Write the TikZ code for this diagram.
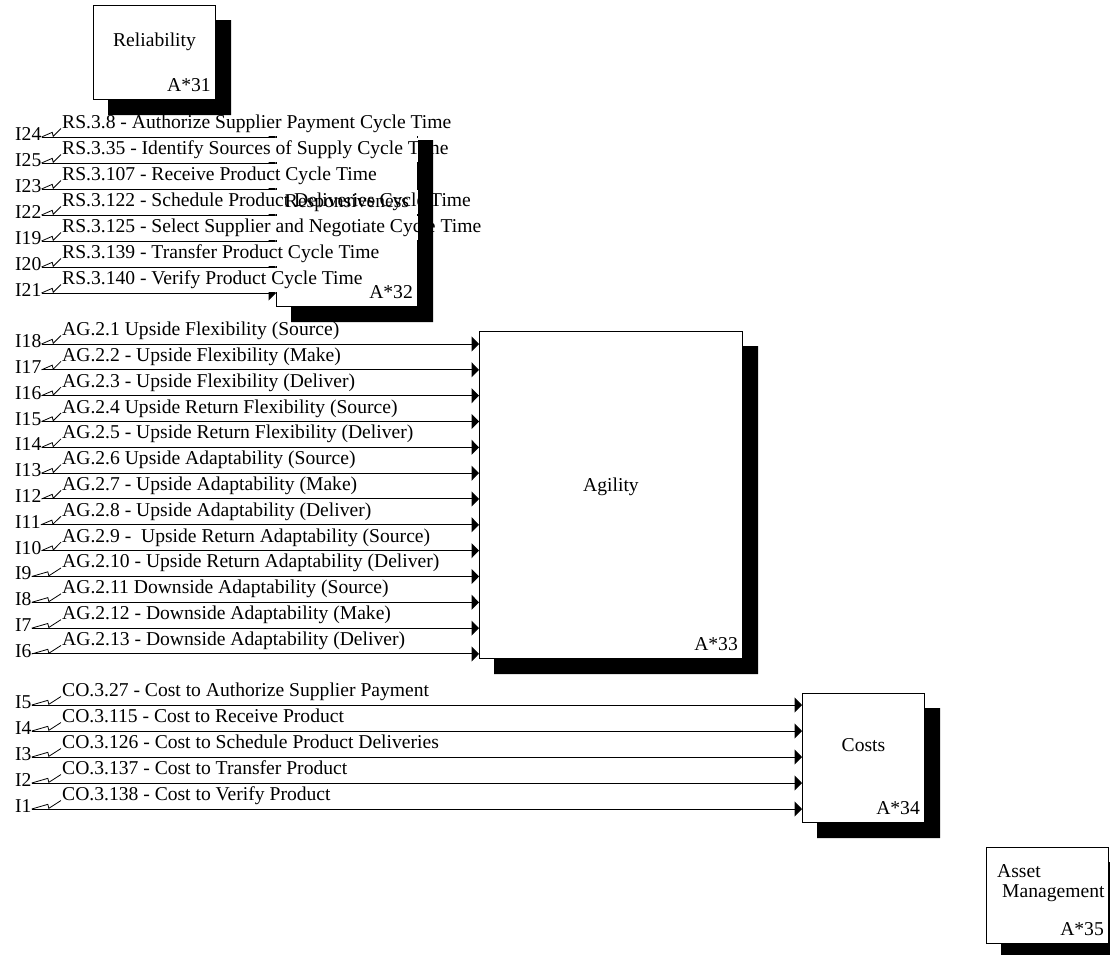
\documentclass[tikz,border=0pt]{standalone}
\usepackage{fontspec}
\setmainfont{Liberation Serif}
\usetikzlibrary{arrows.meta,calc,positioning}
\tikzset{
    mybox/.style={draw=black,fill=white,line width=1pt,inner sep=0pt,anchor=north west},
    myshadow/.style={fill=black},
    myflow/.style={line width=1pt,draw=black,-{Triangle[length=7.5pt,width=15pt]}},
    mysquig/.style={line width=0.8pt,draw=black},
    mytext/.style={inner sep=0pt,anchor=base west},
    myflowtext/.style={fill=white,inner xsep=1pt,inner ysep=0pt,text height=16.4pt,text depth=7.4pt,anchor=base west},
    every node/.style={font=\fontsize{19.6}{21}\selectfont}
}

\begin{document}
\begin{tikzpicture}[x=1pt,y=-1pt]
  \useasboundingbox (0,0) rectangle (1110,954);
  % activity boxes
  \node[mybox,minimum width=122pt,minimum height=94pt] (rel) at (93,5) {};
  \node[mybox,minimum width=141pt,minimum height=181pt] (resp) at (276,125) {};
  \node[mybox,minimum width=263pt,minimum height=327pt] (agil) at (479,331) {};
  \node[mybox,minimum width=122pt,minimum height=129pt] (cost) at (802,693) {};
  \node[mybox,minimum width=122pt,minimum height=96pt] (asset) at (986,847) {};
  % responsiveness inputs
  \foreach \n/\txt [count=\k] in {24/{RS.3.8 - Authorize Supplier Payment Cycle Time},
      25/{RS.3.35 - Identify Sources of Supply Cycle Time},
      23/{RS.3.107 - Receive Product Cycle Time},
      22/{RS.3.122 - Schedule Product Deliveries Cycle Time},
      19/{RS.3.125 - Select Supplier and Negotiate Cycle Time},
      20/{RS.3.139 - Transfer Product Cycle Time},
      21/{RS.3.140 - Verify Product Cycle Time}}{
    \pgfmathsetmacro{\y}{137+26*(\k-1)}
    \coordinate (r\n) at (0,\y);
    \node[mytext] (i\n) at (15,\y+3.5) {I\n};
    \draw[myflow] (i\n.east |- r\n) -- (resp.west |- r\n);
    \node[myflowtext] (t\n) at (61,\y-8.5) {\txt};
    \draw[mysquig] (i\n.east |- r\n) -- ($(i\n.east |- r\n)!.55!(t\n.base west)$) -- ++(1,4) -- (t\n.base west);
  }
  % agility inputs
  \foreach \n/\txt [count=\k] in {18/{AG.2.1 Upside Flexibility (Source)},
      17/{AG.2.2 - Upside Flexibility (Make)},
      16/{AG.2.3 - Upside Flexibility (Deliver)},
      15/{AG.2.4 Upside Return Flexibility (Source)},
      14/{AG.2.5 - Upside Return Flexibility (Deliver)},
      13/{AG.2.6 Upside Adaptability (Source)},
      12/{AG.2.7 - Upside Adaptability (Make)},
      11/{AG.2.8 - Upside Adaptability (Deliver)},
      10/{AG.2.9 -\ \ Upside Return Adaptability (Source)},
      9/{AG.2.10 - Upside Return Adaptability (Deliver)},
      8/{AG.2.11 Downside Adaptability (Source)},
      7/{AG.2.12 - Downside Adaptability (Make)},
      6/{AG.2.13 - Downside Adaptability (Deliver)}}{
    \pgfmathsetmacro{\y}{344+25.83*(\k-1)}
    \coordinate (r\n) at (0,\y);
    \node[mytext] (i\n) at (15,\y+3.5) {I\n};
    \draw[myflow] (i\n.east |- r\n) -- (agil.west |- r\n);
    \node[myflowtext] (t\n) at (61,\y-8.5) {\txt};
    \draw[mysquig] (i\n.east |- r\n) -- ($(i\n.east |- r\n)!.55!(t\n.base west)$) -- ++(1,4) -- (t\n.base west);
  }
  % cost inputs
  \foreach \n/\txt [count=\k] in {5/{CO.3.27 - Cost to Authorize Supplier Payment},
      4/{CO.3.115 - Cost to Receive Product},
      3/{CO.3.126 - Cost to Schedule Product Deliveries},
      2/{CO.3.137 - Cost to Transfer Product},
      1/{CO.3.138 - Cost to Verify Product}}{
    \pgfmathsetmacro{\y}{705+26*(\k-1)}
    \coordinate (r\n) at (0,\y);
    \node[mytext] (i\n) at (15,\y+3.5) {I\n};
    \draw[myflow] (i\n.east |- r\n) -- (cost.west |- r\n);
    \node[myflowtext] (t\n) at (61,\y-8.5) {\txt};
    \draw[mysquig] (i\n.east |- r\n) -- ($(i\n.east |- r\n)!.55!(t\n.base west)$) -- ++(1,4) -- (t\n.base west);
  }
  % box names and numbers
  \node (relname) at ($(rel.center)+(0,-11)$) {Reliability};
  \node (respname) at ($(resp.center)+(0,-13)$) {Responsiveness};
  \node (agilname) at ($(agil.center)+(0,-8)$) {Agility};
  \node (costname) at ($(cost.center)+(0,-13)$) {Costs};
  \node[mytext] (assetname) at (997,877) {Asset};
  \node[mytext] (assetname2) at (1002,897) {Management};
  \foreach \b/\t in {rel/31,resp/32,agil/33,cost/34,asset/35}
    \node[mytext,anchor=base east] (num\t) at ($(\b.south east)+(-5,-9)$) {A*\t};
  % shadows
  \foreach \b in {rel,resp,agil,cost,asset}
    \fill[myshadow] (\b.north east) ++(0,15) -- ++(15,0) |- ($(\b.south west)+(15,15)$) |- (\b.south east) -- cycle;
\end{tikzpicture}
\end{document}
